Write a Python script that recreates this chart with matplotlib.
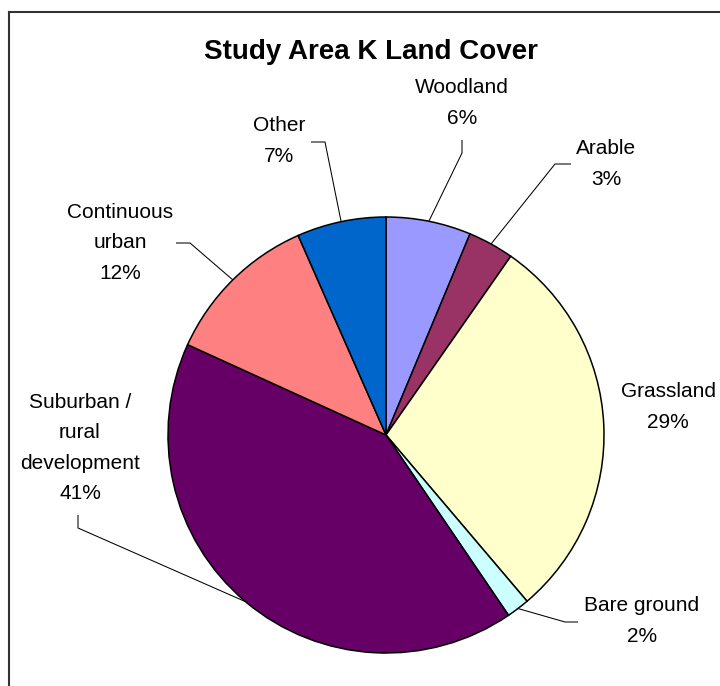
import numpy as np
import matplotlib
matplotlib.use("Agg")
import matplotlib.pyplot as plt

# Land cover shares (percent), clockwise from 12 o'clock
categories = ["Woodland", "Arable", "Grassland", "Bare ground",
              "Suburban /\nrural\ndevelopment", "Continuous\nurban", "Other"]
shares = [6.3, 3.4, 29.1, 1.7, 41.3, 11.6, 6.6]
colors = ["#9999FF", "#993366", "#FFFFCC", "#CCFFFF", "#660066", "#FF8080", "#0066CC"]

W, H = 720, 686
plt.rcParams['font.family'] = ['Liberation Sans', 'DejaVu Sans']

fig = plt.figure(figsize=(W / 100, H / 100), dpi=100)
ax = fig.add_axes([0, 0, 1, 1])

# pie geometry in pixel units (y measured from the top of the image)
cx, cy, r = 386, 435, 218

wedges, _ = ax.pie(shares, colors=colors, startangle=90, counterclock=False,
                   center=(cx, H - cy), radius=r,
                   wedgeprops=dict(edgecolor="black", linewidth=1.1))

ax.set_xlim(0, W)
ax.set_ylim(0, H)
ax.set_aspect('equal')
ax.axis('off')

# label centers and leader elbows (pixel coords from top-left)
label_pos = [(462, 103), (606, 164), (668, 407), (642, 621),
             (80, 448), (120, 243), (279, 141)]
leaders = [
    [(462, 140), (462, 153)],
    [(571, 164), (555, 164)],
    None,
    [(578, 622), (565, 622)],
    [(78, 515), (78, 528)],
    [(176, 243), (190, 243)],
    [(311, 142), (325, 142)],
]

for w, name, val, pos, lead in zip(wedges, categories, shares, label_pos, leaders):
    ax.text(pos[0], H - pos[1], f"{name}\n{val:.0f}%", ha="center", va="center",
            fontsize=15, linespacing=1.75, color="black")
    if lead is not None:
        mid = np.deg2rad((w.theta1 + w.theta2) / 2)
        ex = cx + r * np.cos(mid)
        ey = (H - cy) + r * np.sin(mid)
        xs = [lead[0][0], lead[1][0], ex]
        ys = [H - lead[0][1], H - lead[1][1], ey]
        ax.plot(xs, ys, color="black", linewidth=0.75, solid_capstyle="butt")

ax.text(371, H - 52, "Study Area K Land Cover", ha="center", va="center",
        fontsize=20, fontweight="bold")

# chart frame (only the left and top edges fall inside the image)
ax.plot([9, 9], [0, H - 12], color="#333333", linewidth=1.5)
ax.plot([9, W], [H - 12, H - 12], color="#333333", linewidth=1.5)

fig.savefig("out.png", dpi=100)
